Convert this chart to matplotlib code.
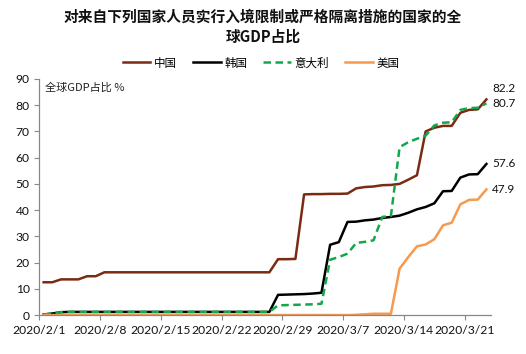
import matplotlib
matplotlib.use("Agg")
import matplotlib.pyplot as plt
import pandas as pd

plt.rcParams['font.family'] = ['Noto Sans CJK SC', 'DejaVu Sans']

title = "对来自下列国家人员实行入境限制或严格隔离措施的国家的全\n球GDP占比"
unit_label = "全球GDP占比 %"
names = ['中国', '韩国', '意大利', '美国']
colors = ['#7A2B12', '#000000', '#12A84A', '#F59A50']

dates = pd.date_range('2020-02-01', '2020-03-23')

china = [12.5, 12.5, 13.6, 13.6, 13.6, 14.8, 14.8,
         16.3, 16.3, 16.3, 16.3, 16.3, 16.3, 16.3, 16.3, 16.3, 16.3,
         16.3, 16.3, 16.3, 16.3, 16.3, 16.3, 16.3, 16.3, 16.3, 16.3,
         21.3, 21.3, 21.4, 46.0, 46.1, 46.1, 46.2, 46.2, 46.3, 48.3,
         48.8, 49.0, 49.5, 49.6, 50.0, 51.6, 53.3, 70.0, 71.4, 72.1,
         72.1, 77.1, 78.2, 78.4, 82.2]
korea = [0.2, 0.6, 1.1, 1.2, 1.2, 1.2, 1.2, 1.2, 1.2, 1.2, 1.2,
         1.2, 1.2, 1.2, 1.2, 1.2, 1.2, 1.2, 1.2, 1.2, 1.2, 1.2,
         1.2, 1.2, 1.2, 1.2, 1.2, 7.7, 7.8, 7.9, 8.0, 8.2, 8.5,
         26.8, 27.8, 35.5, 35.6, 36.1, 36.4, 37.0, 37.4, 37.9, 39.0,
         40.3, 41.2, 42.6, 47.2, 47.3, 52.4, 53.6, 53.7, 57.6]
italy = [0.2, 0.6, 1.1, 1.2, 1.2, 1.2, 1.2, 1.2, 1.2, 1.2, 1.2,
         1.2, 1.2, 1.2, 1.2, 1.2, 1.2, 1.2, 1.2, 1.2, 1.2, 1.2,
         1.2, 1.2, 1.2, 1.2, 1.2, 3.7, 3.8, 3.9, 4.0, 4.1, 4.3,
         21.1, 22.1, 23.4, 27.5, 27.9, 28.5, 37.4, 37.8, 64.0, 65.9,
         67.2, 68.4, 72.3, 73.3, 73.5, 78.2, 78.9, 79.0, 80.7]
usa = [0.0, 0.0, 0.0, 0.0, 0.0, 0.0, 0.0, 0.0, 0.0, 0.0, 0.0,
       0.0, 0.0, 0.0, 0.0, 0.0, 0.0, 0.0, 0.0, 0.0, 0.0, 0.0,
       0.0, 0.0, 0.0, 0.0, 0.0, 0.0, 0.0, 0.0, 0.0, 0.0, 0.0,
       0.0, 0.0, 0.0, 0.1, 0.3, 0.5, 0.5, 0.5, 17.7, 22.1,
       26.2, 26.9, 28.9, 34.2, 35.2, 42.2, 43.9, 44.0, 47.9]
series = [china, korea, italy, usa]

tick_dates = pd.to_datetime(['2020-02-01', '2020-02-08', '2020-02-15', '2020-02-22',
                             '2020-02-29', '2020-03-07', '2020-03-14', '2020-03-21'])
tick_labels = ['2020/2/1', '2020/2/8', '2020/2/15', '2020/2/22',
               '2020/2/29', '2020/3/7', '2020/3/14', '2020/3/21']
end_offsets = [11, 0, 0, 0]

fig = plt.figure(figsize=(5.26, 3.54), dpi=100)
ax = fig.add_axes([0.0747, 0.110, 0.8583, 0.667])

# points sit in the middle of each day, as on an Excel date axis
xs = dates + pd.Timedelta(hours=12)
handles = []
for vals, name, c in zip(series, names, colors):
    ls = (0, (3, 1.8)) if name == '意大利' else '-'
    h, = ax.plot(xs, vals, color=c, lw=1.8, ls=ls, label=name)
    handles.append(h)

for vals, c, dy in zip(series, colors, end_offsets):
    ax.annotate(f"{vals[-1]:.1f}", xy=(xs[-1], vals[-1]), xytext=(6, dy),
                textcoords='offset pixels', ha='left', va='center',
                fontsize=8.5, family='Lato', color='#111111',
                annotation_clip=False)

ax.set_xlim(pd.Timestamp('2020-02-01'), pd.Timestamp('2020-03-24'))
ax.set_ylim(0, 90)
ax.set_yticks(range(0, 91, 10))
ax.set_xticks(tick_dates)
ax.set_xticklabels(tick_labels)
for lab in ax.get_xticklabels() + ax.get_yticklabels():
    lab.set_family('Lato')
    lab.set_fontsize(8.7)
    lab.set_color('#111111')
ax.tick_params(axis='both', direction='out', length=3.5, width=0.8, color='#888888')
ax.tick_params(axis='x', pad=4)
for s in ['top', 'right']:
    ax.spines[s].set_visible(False)
for s in ['left', 'bottom']:
    ax.spines[s].set_color('#888888')
    ax.spines[s].set_linewidth(0.9)

ax.text(0.013, 0.985, unit_label, transform=ax.transAxes, ha='left', va='top',
        fontsize=8, color='#222222')

fig.text(0.5, 0.975, title, ha='center', va='top', fontsize=10.6, fontweight='bold',
         linespacing=1.3, color='#111111')
fig.legend(handles=handles, loc='center', bbox_to_anchor=(261 / 526, 1 - 63 / 354),
           ncol=4, frameon=False, fontsize=8.3, handlelength=2.4, handletextpad=0.3,
           columnspacing=1.4, borderpad=0)

fig.savefig('out.png', dpi=100)
